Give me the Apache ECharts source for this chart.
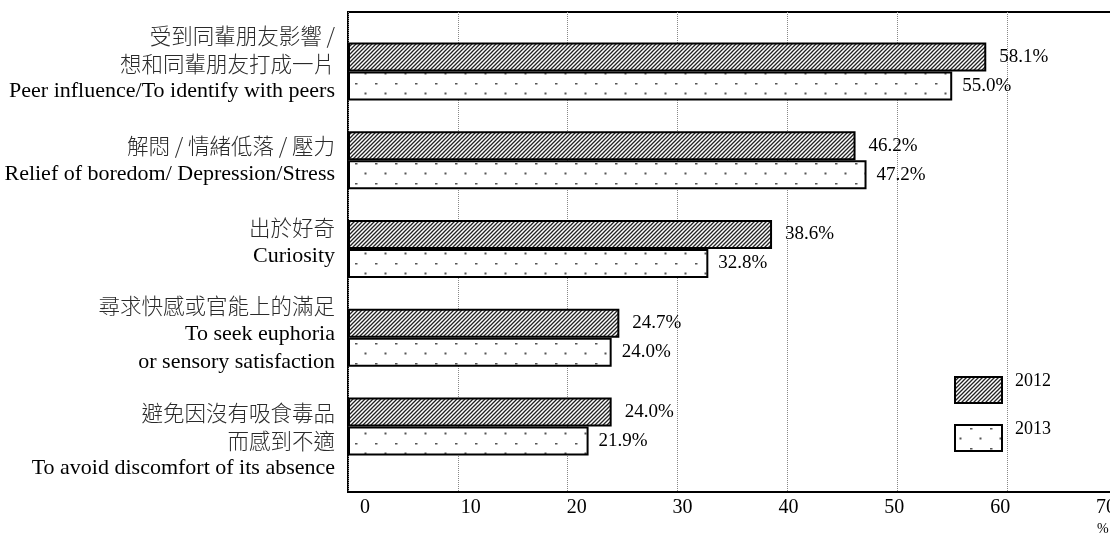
<!DOCTYPE html>
<html>
<head>
<meta charset="utf-8">
<script src="https://cdn.jsdelivr.net/npm/echarts@6/dist/echarts.min.js"></script>
<style>
html,body{margin:0;padding:0;background:#fff;}
#chart{width:1110px;height:535px;}
</style>
</head>
<body>
<div id="chart"></div>
<script>
// ---- data ----
const categoriesZh = [
  ['受到同輩朋友影響 /', '想和同輩朋友打成一片'],
  ['解悶 / 情緒低落 / 壓力'],
  ['出於好奇'],
  ['尋求快感或官能上的滿足'],
  ['避免因沒有吸食毒品', '而感到不適']
];
const categoriesEn = [
  ['Peer influence/To identify with peers'],
  ['Relief of boredom/ Depression/Stress'],
  ['Curiosity'],
  ['To seek euphoria', 'or sensory satisfaction'],
  ['To avoid discomfort of its absence']
];
const seriesNames = ['2012', '2013'];
const values2012 = [58.1, 46.2, 38.6, 24.7, 24.0];
const values2013 = [55.0, 47.2, 32.8, 24.0, 21.9];
const tickLabels = ['0', '10', '20', '30', '40', '50', '60', '70'];
const unitLabel = '%';

// ---- patterns ----
function hatchPattern() {
  const c = document.createElement('canvas');
  c.width = 4; c.height = 4;
  const g = c.getContext('2d');
  g.fillStyle = '#fff'; g.fillRect(0, 0, 4, 4);
  g.strokeStyle = '#222'; g.lineWidth = 1.3;
  g.beginPath();
  g.moveTo(-1, 5); g.lineTo(5, -1);
  g.moveTo(-1, 1); g.lineTo(1, -1);
  g.moveTo(3, 5); g.lineTo(5, 3);
  g.stroke();
  return c;
}
function dotPattern() {
  const c = document.createElement('canvas');
  c.width = 20; c.height = 20;
  const g = c.getContext('2d');
  g.fillStyle = '#fff'; g.fillRect(0, 0, 20, 20);
  g.fillStyle = '#555';
  g.fillRect(4.5, 12.5, 2, 2);
  g.fillRect(15, 3, 2.5, 1.5);
  return c;
}

const serif = "'Times New Roman','Liberation Serif',serif";
const cjk = "'Noto Sans CJK TC','Noto Sans CJK SC',sans-serif";

const catKeys = categoriesEn.map(a => a.join(' '));
// vertical nudges of the category label blocks (layout only)
const labelNudge = [-8, 0, -7, -4, 14];

const chart = echarts.init(document.getElementById('chart'), null, {renderer: 'canvas'});
const option = {
  backgroundColor: '#fff',
  animation: false,
  grid: [
    {left: 348, width: 769, top: 27, height: 444, outerBoundsMode: 'none', containLabel: false},
    {left: 348, width: 769, top: 12, bottom: 43, show: true, borderColor: '#000', borderWidth: 2,
      backgroundColor: 'transparent', outerBoundsMode: 'none', containLabel: false},
    {left: 365, width: 741, top: 12, bottom: 43, outerBoundsMode: 'none', containLabel: false}
  ],
  xAxis: [
    {gridIndex: 0, type: 'value', min: 0, max: 70, interval: 10, show: false},
    {gridIndex: 1, type: 'value', min: 0, max: 70, interval: 10,
      axisLine: {show: false}, axisTick: {show: false}, axisLabel: {show: false},
      splitLine: {show: true, lineStyle: {color: '#888', type: [1, 1], width: 1}}},
    {gridIndex: 2, type: 'category', data: tickLabels, boundaryGap: false,
      axisLine: {show: false}, axisTick: {show: false}, splitLine: {show: false},
      axisLabel: {interval: 0, margin: 6, color: '#000', fontFamily: serif, fontSize: 20,
        showMinLabel: true, showMaxLabel: true, hideOverlap: false}}
  ],
  yAxis: [
    {gridIndex: 0, type: 'category', inverse: true, data: catKeys,
      axisLine: {show: false}, axisTick: {show: false},
      axisLabel: {
        margin: 13, align: 'right',
        formatter: function (v, i) {
          const parts = [];
          const n = labelNudge[i];
          if (n > 0) parts.push('{sp|\u00a0}');
          categoriesZh[i].forEach(s => parts.push('{zh|' + s + '}'));
          categoriesEn[i].forEach(s => parts.push('{en|' + s + '}'));
          if (n < 0) parts.push('{sp' + (-n) + '|\u00a0}');
          return parts.join('\n');
        },
        rich: {
          zh: {fontFamily: cjk, fontSize: 21.5, fontWeight: 300, color: '#2a2a2a', lineHeight: 28, align: 'right'},
          en: {fontFamily: serif, fontSize: 22, color: '#000', lineHeight: 28, align: 'right'},
          sp: {fontSize: 1, lineHeight: 28},
          sp8: {fontSize: 1, lineHeight: 16},
          sp7: {fontSize: 1, lineHeight: 14},
          sp4: {fontSize: 1, lineHeight: 8}
        }
      }},
    {gridIndex: 1, type: 'value', show: false},
    {gridIndex: 2, type: 'value', show: false}
  ],
  legend: {
    orient: 'vertical', left: 954, top: 372, padding: 0,
    itemWidth: 47, itemHeight: 26, itemGap: 16, icon: 'rect',
    data: seriesNames,
    textStyle: {fontFamily: serif, fontSize: 18, color: '#000',
      rich: {t: {fontFamily: serif, fontSize: 18, color: '#000', padding: [0, 0, 18, 8]}}},
    formatter: n => '{t|' + n + '}'
  },
  series: [
    {name: seriesNames[0], type: 'bar', xAxisIndex: 0, yAxisIndex: 0, data: values2012,
      barWidth: 29, barGap: '0%',
      itemStyle: {color: {image: hatchPattern(), repeat: 'repeat'}, borderColor: '#000', borderWidth: 2},
      label: {show: true, position: 'right', distance: 13, fontFamily: serif, fontSize: 19, color: '#000',
        formatter: p => p.value.toFixed(1) + '%'}},
    {name: seriesNames[1], type: 'bar', xAxisIndex: 0, yAxisIndex: 0, data: values2013,
      barWidth: 29, barGap: '0%',
      itemStyle: {color: {image: dotPattern(), repeat: 'repeat'}, borderColor: '#000', borderWidth: 2},
      label: {show: true, position: 'right', distance: 10, fontFamily: serif, fontSize: 19, color: '#000',
        formatter: p => p.value.toFixed(1) + '%'}}
  ],
  graphic: [
    {type: 'text', left: 1097, top: 522, style: {text: unitLabel, font: '14px ' + serif, fill: '#000'}}
  ]
};
chart.setOption(option);
</script>
</body>
</html>
